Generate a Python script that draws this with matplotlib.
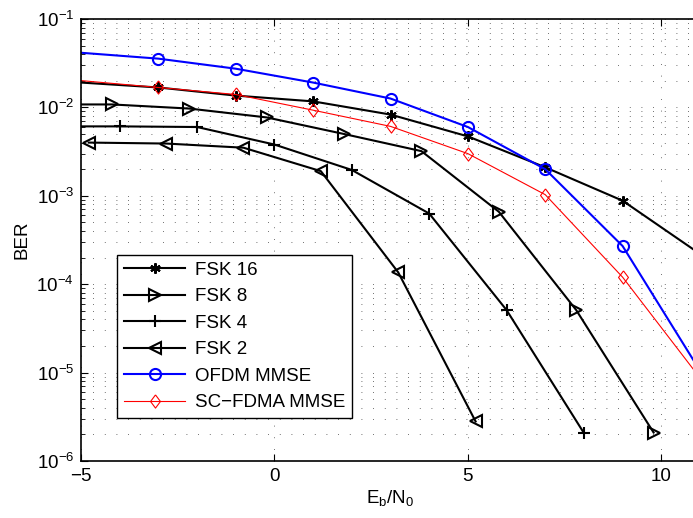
import numpy as np
import matplotlib
matplotlib.use("Agg")
import matplotlib.pyplot as plt

plt.rcParams['font.family'] = ['Liberation Sans', 'DejaVu Sans']
plt.rcParams['mathtext.default'] = 'regular'
plt.rcParams['font.size'] = 13.5

# BER curves (first point of each line carries no marker)
ebn0_odd = [-5, -3, -1, 1, 3, 5, 7, 9, 11]
fsk16 = [0.0191, 0.0168, 0.0136, 0.0117, 0.0083, 0.0047, 0.0021, 8.8e-4, 2.2e-4]
ofdm_mmse = [0.0415, 0.0356, 0.0274, 0.0191, 0.0126, 0.0060, 0.0020, 2.7e-4, 1.05e-5]
scfdma_mmse = [0.0201, 0.0168, 0.0140, 0.0093, 0.0061, 0.0030, 0.00103, 1.2e-4, 8.7e-6]

ebn0_fsk8 = [-5, -4.2, -2.2, -0.2, 1.8, 3.8, 5.8, 7.8, 9.8]
fsk8 = [0.0108, 0.0108, 0.0097, 0.0077, 0.0050, 0.0032, 6.6e-4, 5.1e-5, 2.1e-6]

ebn0_fsk4 = [-5, -4, -2, 0, 2, 4, 6, 8]
fsk4 = [0.0061, 0.0061, 0.0060, 0.0038, 0.00196, 6.3e-4, 5.1e-5, 2.07e-6]

ebn0_fsk2 = [-4.8, -2.8, -0.8, 1.2, 3.2, 5.2]
fsk2 = [0.0040, 0.0039, 0.0035, 0.0019, 1.36e-4, 2.8e-6]

diamond = [(0, 1), (0.75, 0), (0, -1), (-0.75, 0), (0, 1)]

fig = plt.figure(figsize=(6.93, 5.18), dpi=100)
ax = fig.add_axes([81/693, 57/518, 619/693, 442/518])

ax.semilogy(ebn0_odd, fsk16, color='k', lw=1.5, marker=(6, 2, 0), ms=7.5, mew=1.5,
            markevery=range(1, len(fsk16)), label='FSK 16')
ax.semilogy(ebn0_fsk8, fsk8, color='k', lw=1.5, marker='>', ms=8.5, mfc='none',
            mew=1.5, markevery=range(1, len(fsk8)), label='FSK 8')
ax.semilogy(ebn0_fsk4, fsk4, color='k', lw=1.5, marker='+', ms=9, mew=1.5,
            markevery=range(1, len(fsk4)), label='FSK 4')
ax.semilogy(ebn0_fsk2, fsk2, color='k', lw=1.5, marker='<', ms=8.5, mfc='none',
            mew=1.5, label='FSK 2')
ax.semilogy(ebn0_odd, ofdm_mmse, color='b', lw=1.5, marker='o', ms=8, mfc='none',
            mew=1.5, markevery=range(1, len(ofdm_mmse)), label='OFDM MMSE')
ax.semilogy(ebn0_odd, scfdma_mmse, color='r', lw=0.8, marker=diamond, ms=9.5,
            mfc='none', mew=0.8, markevery=range(1, len(scfdma_mmse)),
            label='SC\u2212FDMA MMSE')

ax.set_xlim(-5, 11)
ax.set_ylim(1e-6, 1e-1)
ax.set_xticks([-5, 0, 5, 10])
ax.set_xticklabels(['\u22125', '0', '5', '10'])
ax.grid(True, which='major', color='0.25', linestyle=(0, (1, 13)), lw=0.6)
ax.grid(True, which='minor', axis='y', color='0.25', linestyle=(0, (1, 13)), lw=0.6)
ax.tick_params(which='both', direction='in', top=True, right=True)
ax.tick_params(which='major', length=5, labelsize=13.5, pad=5)
ax.tick_params(which='minor', length=3)
for s in ax.spines.values():
    s.set_linewidth(1.2)

ax.set_xlabel(r'E$_b$/N$_0$', fontsize=13.5, labelpad=2)
ax.set_ylabel('BER', fontsize=13.5)

leg = ax.legend(loc='lower left', bbox_to_anchor=(36/619, 43/442), borderaxespad=0,
                fancybox=False, edgecolor='k', framealpha=1, handlelength=3.3,
                handletextpad=0.5, labelspacing=0.5, fontsize=13.5, borderpad=0.35)
leg.get_frame().set_linewidth(1.0)

fig.savefig('out.png', dpi=100)
